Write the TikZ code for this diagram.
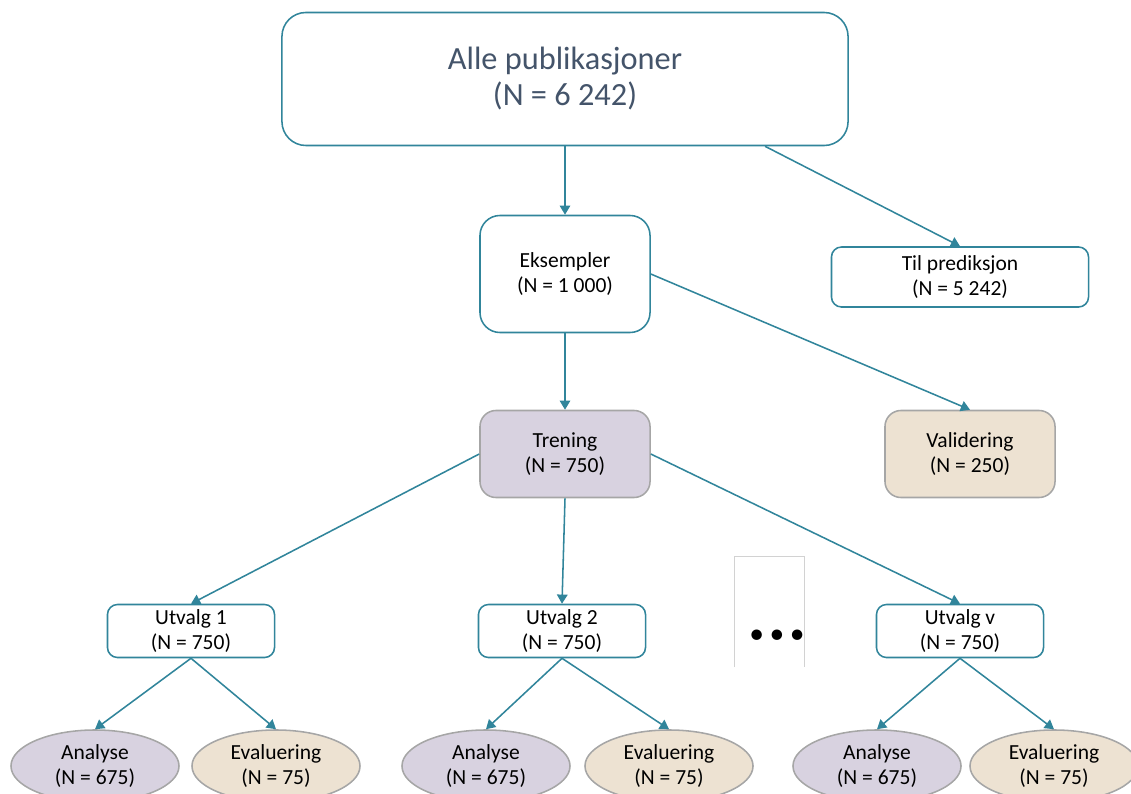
\documentclass[tikz,border=0pt]{standalone}
\usepackage{fontspec}
\setmainfont{Carlito}
\usetikzlibrary{arrows.meta,shapes.geometric}
\definecolor{teal}{RGB}{49,133,155}
\definecolor{lavender}{RGB}{216,210,224}
\definecolor{beige}{RGB}{237,226,210}
\definecolor{boxgray}{RGB}{166,166,166}
\definecolor{slate}{RGB}{68,84,106}
\begin{document}
\begin{tikzpicture}[x=0.025cm,y=-0.025cm,
  box/.style={draw=teal,line width=1.1pt,fill=white,align=center,font=\fontsize{15.3}{18}\selectfont},
  filled/.style={draw=boxgray,line width=1.1pt,align=center,font=\fontsize{15.3}{18}\selectfont,rounded corners=0.4cm,minimum width=4.25cm,minimum height=2.175cm},
  utvalg/.style={box,rounded corners=0.25cm,minimum width=4.175cm,minimum height=1.325cm},
  oval/.style={ellipse,draw=boxgray,line width=1.1pt,align=center,font=\fontsize{15.3}{18}\selectfont,minimum width=4.2cm,minimum height=1.8cm,inner sep=0pt},
  link/.style={draw=teal,line width=1.1pt,-{Triangle[width=7.5pt,length=6.5pt]}}]

\useasboundingbox (0,0) rectangle (1131,794);

\node[box,rounded corners=0.6cm,minimum width=14.15cm,minimum height=3.325cm,text=slate,font=\fontsize{23}{25.6}\selectfont] (alle) at (565,79) {Alle publikasjoner\\(N = 6 242)};
\node[box,rounded corners=0.5cm,minimum width=4.25cm,minimum height=2.925cm] (eks) at (565,274) {Eksempler\\(N = 1 000)};
\node[box,rounded corners=0.25cm,minimum width=6.425cm,minimum height=1.5cm] (pred) at (960,277) {Til prediksjon\\(N = 5 242)};
\node[filled,fill=lavender] (tren) at (565,454) {Trening\\(N = 750)};
\node[filled,fill=beige] (val) at (970,454) {Validering\\(N = 250)};

\node[utvalg] (u1) at (191,631) {Utvalg 1\\(N = 750)};
\node[utvalg] (u2) at (562,631) {Utvalg 2\\(N = 750)};
\node[utvalg] (uv) at (960,631) {Utvalg v\\(N = 750)};

% ellipser nederst
\node[oval,fill=lavender] (a1) at (95,766) {Analyse\\(N = 675)};
\node[oval,fill=beige] (e1) at (276,766) {Evaluering\\(N = 75)};
\node[oval,fill=lavender] (a2) at (486,766) {Analyse\\(N = 675)};
\node[oval,fill=beige] (e2) at (669,766) {Evaluering\\(N = 75)};
\node[oval,fill=lavender] (av) at (877,766) {Analyse\\(N = 675)};
\node[oval,fill=beige] (ev) at (1054,766) {Evaluering\\(N = 75)};

\draw[gray!35,line width=0.6pt] (734,667) -- (734,556) -- (804,556) -- (804,667);
\node[font=\fontsize{21}{24}\selectfont] (dots) at (777,637) {\textbullet\hspace{4pt}\textbullet\hspace{4pt}\textbullet};

\draw[link] (alle.south) -- (eks.north);
\draw[link] ([xshift=5cm]alle.south) -- (pred.north);
\draw[link] (eks.south) -- (tren.north);
\draw[link] (eks.east) -- (val.north);
\draw[link] (tren.west) -- (u1.north);
\draw[link] (tren.south) -- (u2.north);
\draw[link] (tren.east) -- (uv.north);
\draw[link] (u1.south) -- (a1.north);
\draw[link] (u1.south) -- (e1.north);
\draw[link] (u2.south) -- (a2.north);
\draw[link] (u2.south) -- (e2.north);
\draw[link] (uv.south) -- (av.north);
\draw[link] (uv.south) -- (ev.north);

\end{tikzpicture}
\end{document}
